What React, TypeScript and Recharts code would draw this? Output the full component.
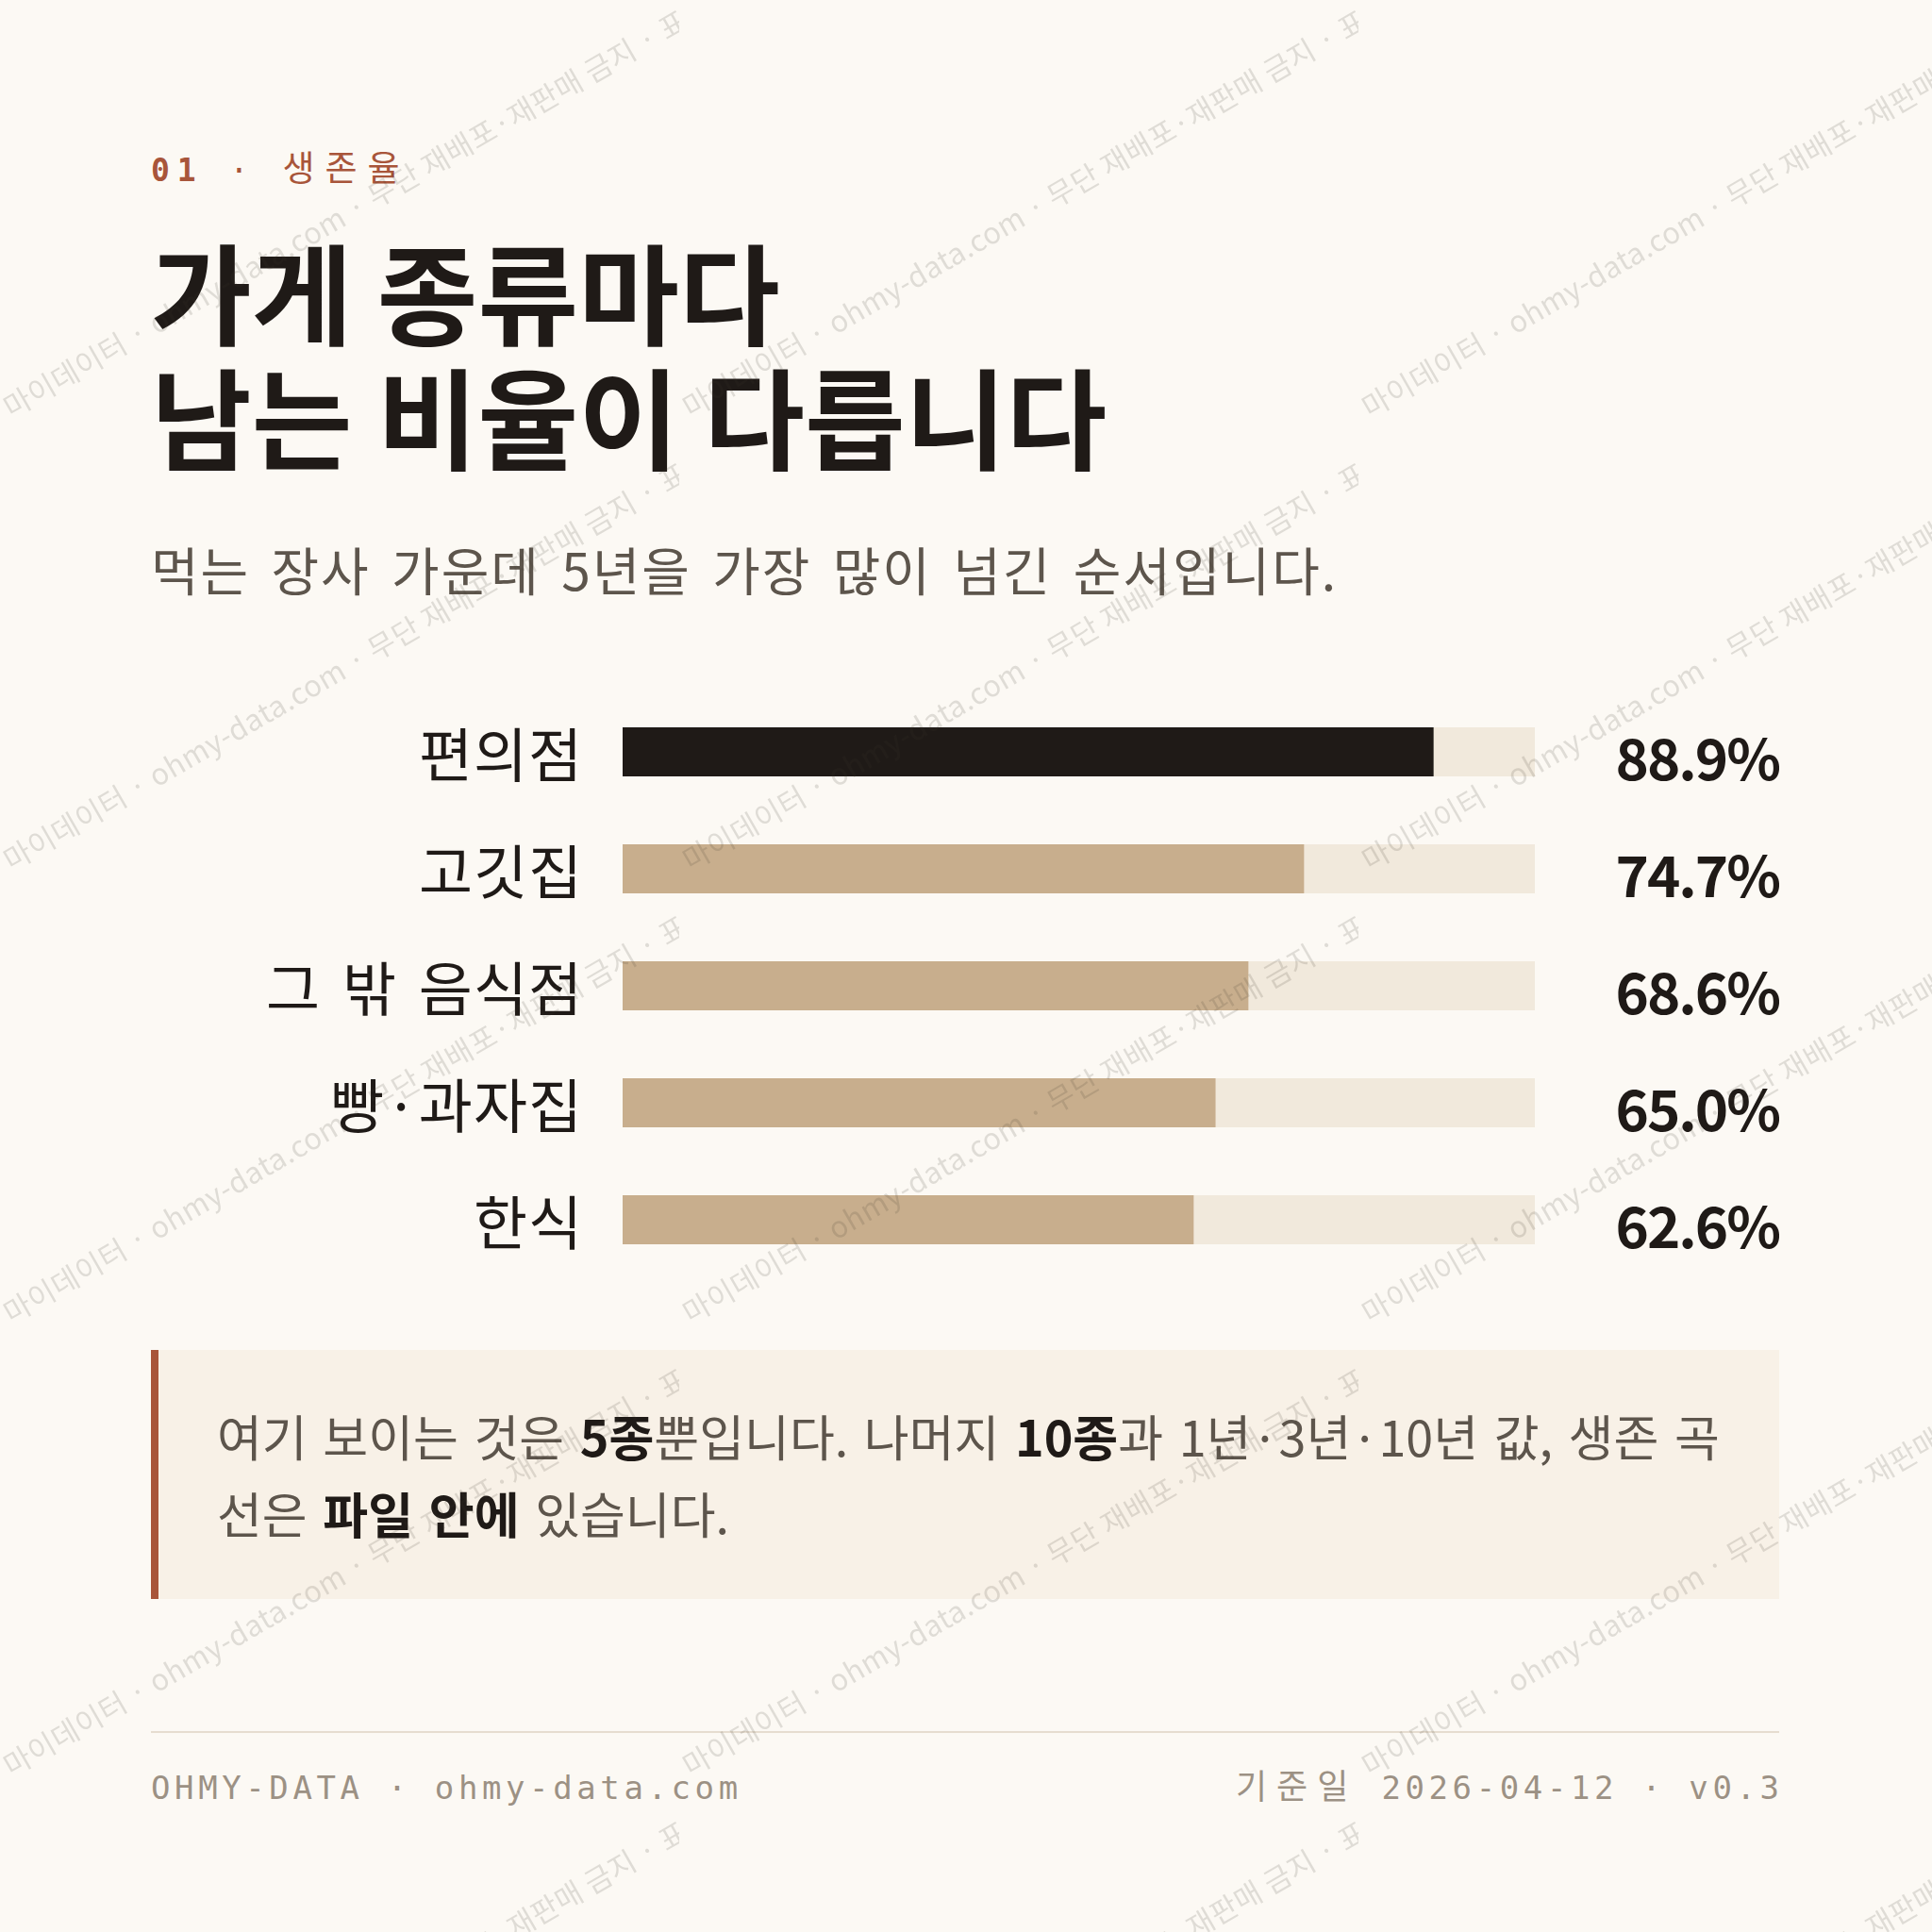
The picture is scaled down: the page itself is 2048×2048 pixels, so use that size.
import React from 'react';
import { BarChart, Bar, XAxis, YAxis, Cell, LabelList } from 'recharts';

const categories = ['편의점', '고깃집', '그 밖 음식점', '빵·과자집', '한식'];
const survivalRates = [88.9, 74.7, 68.6, 65.0, 62.6];
const valueDomain = [0, 100];

const data = categories.map((name, i) => ({ name, rate: survivalRates[i] }));

const FONT = '"Noto Sans CJK KR", "Noto Sans", sans-serif';
const MONO = '"DejaVu Sans Mono", "Noto Sans CJK KR", monospace';

const INK = '#1f1a17';
const TAN = '#c8ae8d';
const TRACK = '#f1e9dc';
const BG = '#fcf9f4';
const RUST = '#a8553a';
const VALUE_GAP = 259;

const CategoryTick = (props: any) => {
  const { x, y, payload } = props;
  return (
    <text
      x={x}
      y={y}
      textAnchor="end"
      dominantBaseline="central"
      fontFamily={FONT}
      fontSize={62}
      letterSpacing={1}
      wordSpacing={8}
      fill={INK}
    >
      {payload.value}
    </text>
  );
};

const ValueLabel = (props: any) => {
  const { x, y, width, height, value } = props;
  const trackEnd = Number(x) + (Number(width) * valueDomain[1]) / Number(value);
  return (
    <text
      x={trackEnd + VALUE_GAP}
      y={Number(y) + Number(height) / 2 + 3}
      textAnchor="end"
      dominantBaseline="central"
      fontFamily={FONT}
      fontWeight={700}
      fontSize={60}
      letterSpacing={-2}
      fill={INK}
    >
      {Number(value).toFixed(1)}%
    </text>
  );
};

const Watermark = () => (
  <svg
    width={2048}
    height={2048}
    style={{ position: 'absolute', left: 0, top: 0, pointerEvents: 'none' }}
  >
    <defs>
      <pattern id="wm" width={720} height={480} patternUnits="userSpaceOnUse">
        <text
          x={12}
          y={444}
          transform="rotate(-30 12 444)"
          fontFamily={FONT}
          fontSize={31}
          letterSpacing={0.5}
          fill="#3c3228"
          fillOpacity={0.15}
        >
          마이데이터 · ohmy-data.com · 무단 재배포·재판매 금지 · 표본 자료
        </text>
      </pattern>
    </defs>
    <rect x={0} y={0} width={2048} height={2048} fill="url(#wm)" />
  </svg>
);

export default function App() {
  return (
    <div
      style={{
        position: 'absolute',
        left: 0,
        top: 0,
        width: 2048,
        height: 2048,
        background: BG,
        overflow: 'hidden',
        fontFamily: FONT,
      }}
    >
      {/* eyebrow */}
      <div
        style={{
          position: 'absolute',
          left: 160,
          top: 158,
          fontFamily: MONO,
          fontSize: 33,
          lineHeight: '44px',
          letterSpacing: 8,
          color: RUST,
          whiteSpace: 'nowrap',
        }}
      >
        <span style={{ fontWeight: 700 }}>01</span> ·{' '}
        <span style={{ fontSize: 37, letterSpacing: 11 }}>생존율</span>
      </div>

      {/* title */}
      <div
        style={{
          position: 'absolute',
          left: 160,
          top: 240,
          fontSize: 116,
          lineHeight: '132px',
          fontWeight: 700,
          letterSpacing: 0,
          color: INK,
          whiteSpace: 'nowrap',
        }}
      >
        가게 종류마다
        <br />
        남는 비율이 다릅니다
      </div>

      {/* subtitle */}
      <div
        style={{
          position: 'absolute',
          left: 160,
          top: 570,
          fontSize: 55,
          lineHeight: '65px',
          letterSpacing: 2,
          wordSpacing: 8,
          color: '#5d554c',
          whiteSpace: 'nowrap',
        }}
      >
        먹는 장사 가운데 5년을 가장 많이 넘긴 순서입니다.
      </div>

      {/* chart */}
      <div style={{ position: 'absolute', left: 160, top: 735 }}>
        <BarChart
          width={1726}
          height={620}
          data={data}
          layout="vertical"
          margin={{ top: 0, right: VALUE_GAP, bottom: 0, left: 0 }}
          barSize={52}
        >
          <XAxis type="number" domain={valueDomain} hide />
          <YAxis
            type="category"
            dataKey="name"
            width={500}
            axisLine={false}
            tickLine={false}
            tickSize={0}
            tickMargin={42}
            tick={<CategoryTick />}
            interval={0}
          />
          <Bar
            dataKey="rate"
            isAnimationActive={false}
            background={{ fill: TRACK }}
          >
            {data.map((d, i) => (
              <Cell key={d.name} fill={i === 0 ? INK : TAN} />
            ))}
            <LabelList dataKey="rate" content={<ValueLabel />} />
          </Bar>
        </BarChart>
      </div>

      {/* callout */}
      <div
        style={{
          position: 'absolute',
          left: 160,
          top: 1431,
          width: 1726,
          height: 264,
          boxSizing: 'border-box',
          borderLeft: `8px solid ${RUST}`,
          background: '#f8f1e7',
          padding: '50px 0 0 62px',
          fontSize: 52,
          lineHeight: '82px',
          wordSpacing: 5,
          color: '#5d554c',
          whiteSpace: 'nowrap',
        }}
      >
        <div>
          여기 보이는 것은 <b style={{ color: INK }}>5종</b>뿐입니다. 나머지{' '}
          <b style={{ color: INK }}>10종</b>과 1년·3년·10년 값, 생존 곡
        </div>
        <div>
          선은 <b style={{ color: INK }}>파일 안에</b> 있습니다.
        </div>
      </div>

      {/* footer rule */}
      <div
        style={{
          position: 'absolute',
          left: 160,
          top: 1835,
          width: 1726,
          height: 2,
          background: '#e6ddd0',
        }}
      />

      {/* footer text */}
      <div
        style={{
          position: 'absolute',
          left: 160,
          top: 1872,
          fontFamily: MONO,
          fontSize: 34,
          lineHeight: '46px',
          letterSpacing: 4.6,
          color: '#9c9184',
          whiteSpace: 'nowrap',
        }}
      >
        OHMY-DATA · ohmy-data.com
      </div>
      <div
        style={{
          position: 'absolute',
          right: 2048 - 1886 - 4.6,
          top: 1872,
          fontFamily: MONO,
          fontSize: 34,
          lineHeight: '46px',
          letterSpacing: 4.6,
          color: '#9c9184',
          whiteSpace: 'nowrap',
          textAlign: 'right',
        }}
      >
        <span style={{ fontSize: 36, letterSpacing: 10 }}>기준일</span> 2026-04-12 · v0.3
      </div>

      <Watermark />
    </div>
  );
}
